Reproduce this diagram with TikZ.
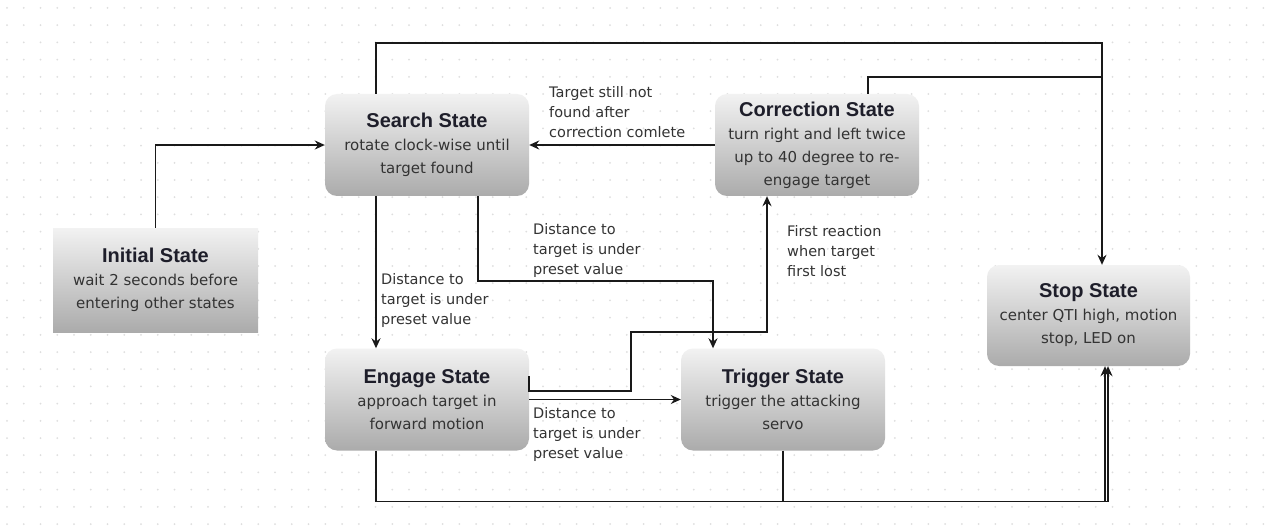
\documentclass[tikz,border=0pt]{standalone}
\usepackage{fontspec}
\setmainfont{DejaVu Sans}
\newfontfamily\headfont{Liberation Sans}
\usetikzlibrary{arrows.meta}

\definecolor{boxtop}{HTML}{F2F2F2}
\definecolor{boxbottom}{HTML}{ABABAB}
\definecolor{ink}{HTML}{333333}
\definecolor{headink}{HTML}{1E1E2A}
\definecolor{griddot}{HTML}{DEDEDE}

\newcommand\statename[1]{{\headfont\bfseries\fontsize{20}{23}\selectfont\color{headink}#1}}

\tikzset{
  state/.style={rectangle, rounded corners=12pt, top color=boxtop, bottom color=boxbottom,
    minimum width=204pt, minimum height=102pt, inner sep=0pt, align=center, text=ink,
    font=\fontsize{15}{23}\selectfont},
  startstate/.style={state, rounded corners=0pt, minimum width=205pt, minimum height=104pt},
  wire/.style={line width=1.5pt, draw=black!90},
  link/.style={wire, -{Stealth[length=10pt,width=9pt]}},
  note/.style={anchor=north west, align=left, inner sep=0pt, text=ink,
    font=\fontsize{14.5}{20}\selectfont},
}

\begin{document}
\begin{tikzpicture}[x=1pt,y=-1pt]
\useasboundingbox (0,0) rectangle (1267,532);
\fill[white] (0,0) rectangle (1267,532);
\foreach \i in {0,...,75} \foreach \j in {0,...,30} \fill[griddot] (7+16.75*\i,8+17.2*\j) circle (1pt);

\node[startstate] (initial) at (155.5,280) {\statename{Initial State}\\wait 2 seconds before\\entering other states};
\node[state] (search) at (427,145) {\statename{Search State}\\rotate clock-wise until\\target found};
\node[state] (correction) at (817,145) {\statename{Correction State}\\turn right and left twice\\up to 40 degree to re-\\engage target};
\node[state] (engage) at (427,399.5) {\statename{Engage State}\\approach target in\\forward motion};
\node[state] (trigger) at (783,399.5) {\statename{Trigger State}\\trigger the attacking\\servo};
\node[state, minimum width=203pt, minimum height=101pt] (stop) at (1088.5,315.5) {\statename{Stop State}\\center QTI high, motion\\stop, LED on};

\coordinate (railjoin) at (1102,77);

\draw[link] (initial.north) |- (search.west);
\draw[link] ([xshift=-51pt]search.north) -- ++(0,-51) -| ([xshift=13.5pt]stop.north);
\draw[wire] ([xshift=51pt]correction.north) |- (railjoin);
\draw[link] (correction.west) -- (search.east);
\draw[link] ([xshift=-51pt]search.south) -- ([xshift=-51pt]engage.north);
\draw[link] ([xshift=51pt]search.south) -- ++(0,85) -| ([xshift=-70pt]trigger.north);
\draw[link] ([yshift=23.5pt]engage.east) -- ([yshift=8.5pt]engage.east) -- ++(102,0) -- ++(0,-59) -| ([xshift=-50pt]correction.south);
\draw[link] (engage.east) -- (trigger.west);
\draw[link] ([xshift=-51pt]engage.south) -- ++(0,51) -| ([xshift=16.5pt]stop.south);
\draw[link] (trigger.south) -- ++(0,51) -| ([xshift=19.5pt]stop.south);

\node[note] (retrynote) at (549,86) {Target still not\\found after\\correction comlete};
\node[note] (engagenote) at (381,273) {Distance to\\target is under\\preset value};
\node[note] (firenote) at (533,223) {Distance to\\target is under\\preset value};
\node[note] (lostnote) at (787,225) {First reaction\\when target\\first lost};
\node[note] (closenote) at (533,407) {Distance to\\target is under\\preset value};
\end{tikzpicture}
\end{document}
